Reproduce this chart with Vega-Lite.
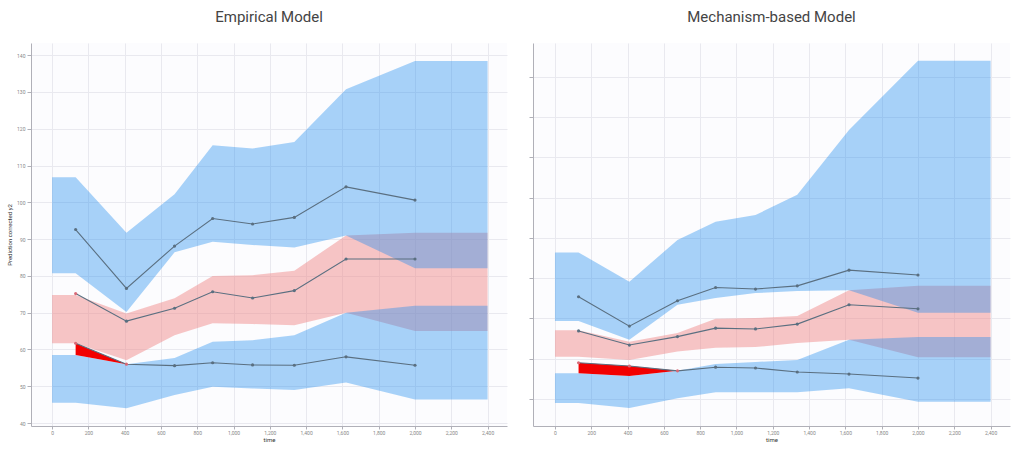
{
  "$schema": "https://vega.github.io/schema/vega-lite/v6.json",
  "background": "#ffffff",
  "padding": {"left": 6, "top": 10, "right": 5, "bottom": 5},
  "spacing": 21,
  "config": {
    "font": "Roboto",
    "view": {"stroke": null, "fill": "#fcfcfe"},
    "title": {"fontSize": 15, "fontWeight": "normal", "color": "#444444", "font": "Roboto", "offset": 18},
    "axis": {
      "gridColor": "#e9e9ef", "gridWidth": 1, "domainColor": "#b0b0b8", "tickColor": "#b0b0b8",
      "labelFontSize": 5, "labelColor": "#888888", "titleFontSize": 6, "titleColor": "#333333", "titleFontWeight": "normal"
    }
  },
  "datasets": {
    "bandsL": [
      {"t": 0, "ubl": 80.7, "ubh": 106.8, "ml": 61.7, "mh": 74.8, "lbl": 45.5, "lbh": 58.5},
      {"t": 130, "ubl": 80.7, "ubh": 106.8, "ml": 61.7, "mh": 74.8, "lbl": 45.5, "lbh": 58.5},
      {"t": 410, "ubl": 70.2, "ubh": 91.7, "ml": 57.1, "mh": 69.8, "lbl": 44.0, "lbh": 56.0},
      {"t": 675, "ubl": 86.4, "ubh": 102.2, "ml": 63.9, "mh": 73.9, "lbl": 47.6, "lbh": 57.7},
      {"t": 885, "ubl": 89.3, "ubh": 115.5, "ml": 67.1, "mh": 80.0, "lbl": 49.9, "lbh": 62.1},
      {"t": 1105, "ubl": 88.4, "ubh": 114.6, "ml": 66.9, "mh": 80.2, "lbl": 49.4, "lbh": 62.5},
      {"t": 1335, "ubl": 87.7, "ubh": 116.4, "ml": 66.6, "mh": 81.4, "lbl": 49.0, "lbh": 63.9},
      {"t": 1620, "ubl": 91.0, "ubh": 130.7, "ml": 70.0, "mh": 91.0, "lbl": 51.0, "lbh": 70.0},
      {"t": 2000, "ubl": 82.1, "ubh": 138.4, "ml": 65.0, "mh": 91.7, "lbl": 46.4, "lbh": 71.9},
      {"t": 2400, "ubl": 82.1, "ubh": 138.4, "ml": 65.0, "mh": 91.7, "lbl": 46.4, "lbh": 71.9}
    ],
    "obsL": [
      {"t": 130, "q": "p90", "v": 92.6, "out": false},
      {"t": 410, "q": "p90", "v": 76.6, "out": false},
      {"t": 675, "q": "p90", "v": 88.1, "out": false},
      {"t": 885, "q": "p90", "v": 95.6, "out": false},
      {"t": 1105, "q": "p90", "v": 94.1, "out": false},
      {"t": 1335, "q": "p90", "v": 95.9, "out": false},
      {"t": 1620, "q": "p90", "v": 104.2, "out": false},
      {"t": 2000, "q": "p90", "v": 100.6, "out": false},
      {"t": 130, "q": "p50", "v": 75.2, "out": true},
      {"t": 410, "q": "p50", "v": 67.7, "out": false},
      {"t": 675, "q": "p50", "v": 71.2, "out": false},
      {"t": 885, "q": "p50", "v": 75.7, "out": false},
      {"t": 1105, "q": "p50", "v": 74.0, "out": false},
      {"t": 1335, "q": "p50", "v": 76.0, "out": false},
      {"t": 1620, "q": "p50", "v": 84.6, "out": false},
      {"t": 2000, "q": "p50", "v": 84.6, "out": false},
      {"t": 130, "q": "p10", "v": 61.7, "out": true},
      {"t": 410, "q": "p10", "v": 56.0, "out": true},
      {"t": 675, "q": "p10", "v": 55.6, "out": false},
      {"t": 885, "q": "p10", "v": 56.4, "out": false},
      {"t": 1105, "q": "p10", "v": 55.8, "out": false},
      {"t": 1335, "q": "p10", "v": 55.7, "out": false},
      {"t": 1620, "q": "p10", "v": 58.0, "out": false},
      {"t": 2000, "q": "p10", "v": 55.7, "out": false}
    ],
    "redL": [
      {"t": 130, "obs": 61.7, "lim": 58.5},
      {"t": 410, "obs": 56.0, "lim": 56.0}
    ],
    "bandsR": [
      {"t": 0, "ubl": 69.4, "ubh": 86.4, "ml": 60.5, "mh": 67.1, "lbl": 49.0, "lbh": 56.4},
      {"t": 130, "ubl": 69.4, "ubh": 86.4, "ml": 60.5, "mh": 67.1, "lbl": 49.0, "lbh": 56.4},
      {"t": 410, "ubl": 64.7, "ubh": 79.1, "ml": 59.7, "mh": 64.2, "lbl": 47.8, "lbh": 55.7},
      {"t": 675, "ubl": 73.4, "ubh": 89.5, "ml": 61.8, "mh": 66.4, "lbl": 50.2, "lbh": 57.0},
      {"t": 885, "ubl": 75.1, "ubh": 94.0, "ml": 62.7, "mh": 69.9, "lbl": 51.7, "lbh": 58.7},
      {"t": 1105, "ubl": 76.3, "ubh": 95.7, "ml": 62.9, "mh": 70.1, "lbl": 51.7, "lbh": 59.2},
      {"t": 1335, "ubl": 76.8, "ubh": 100.7, "ml": 63.9, "mh": 70.6, "lbl": 51.7, "lbh": 59.7},
      {"t": 1620, "ubl": 77.0, "ubh": 116.8, "ml": 64.7, "mh": 77.0, "lbl": 52.7, "lbh": 64.7},
      {"t": 2000, "ubl": 71.4, "ubh": 134.0, "ml": 60.4, "mh": 78.1, "lbl": 49.3, "lbh": 65.4},
      {"t": 2400, "ubl": 71.4, "ubh": 134.0, "ml": 60.4, "mh": 78.1, "lbl": 49.3, "lbh": 65.4}
    ],
    "obsR": [
      {"t": 130, "q": "p90", "v": 75.4, "out": false},
      {"t": 410, "q": "p90", "v": 68.1, "out": false},
      {"t": 675, "q": "p90", "v": 74.4, "out": false},
      {"t": 885, "q": "p90", "v": 77.7, "out": false},
      {"t": 1105, "q": "p90", "v": 77.3, "out": false},
      {"t": 1335, "q": "p90", "v": 78.1, "out": false},
      {"t": 1620, "q": "p90", "v": 82.0, "out": false},
      {"t": 2000, "q": "p90", "v": 80.8, "out": false},
      {"t": 130, "q": "p50", "v": 66.9, "out": false},
      {"t": 410, "q": "p50", "v": 63.4, "out": false},
      {"t": 675, "q": "p50", "v": 65.5, "out": false},
      {"t": 885, "q": "p50", "v": 67.6, "out": false},
      {"t": 1105, "q": "p50", "v": 67.4, "out": false},
      {"t": 1335, "q": "p50", "v": 68.6, "out": false},
      {"t": 1620, "q": "p50", "v": 73.4, "out": false},
      {"t": 2000, "q": "p50", "v": 72.4, "out": false},
      {"t": 130, "q": "p10", "v": 59.0, "out": true},
      {"t": 410, "q": "p10", "v": 58.2, "out": true},
      {"t": 675, "q": "p10", "v": 57.0, "out": true},
      {"t": 885, "q": "p10", "v": 57.9, "out": false},
      {"t": 1105, "q": "p10", "v": 57.7, "out": false},
      {"t": 1335, "q": "p10", "v": 56.7, "out": false},
      {"t": 1620, "q": "p10", "v": 56.2, "out": false},
      {"t": 2000, "q": "p10", "v": 55.2, "out": false}
    ],
    "redR": [
      {"t": 130, "obs": 59.0, "lim": 56.4},
      {"t": 410, "obs": 58.2, "lim": 55.7},
      {"t": 675, "obs": 57.0, "lim": 57.0}
    ]
  },
  "hconcat": [
    {
      "width": 476,
      "height": 383,
      "title": {"text": "Empirical Model"},
      "layer": [
        {
          "data": {"name": "bandsL"},
          "mark": {"type": "area", "color": "#f08080", "opacity": 0.45},
          "encoding": {
            "x": {"field": "t", "type": "quantitative", "scale": {"domain": [-116, 2507], "nice": false, "zero": false},
              "axis": {"values": [0, 200, 400, 600, 800, 1000, 1200, 1400, 1600, 1800, 2000, 2200, 2400], "format": ",d", "title": "time", "tickSize": 3, "labelPadding": 1, "titlePadding": 1, "labelOverlap": false, "labelFlush": false, "tickCount": 13}},
            "y": {"field": "ml", "type": "quantitative", "scale": {"domain": [39.2, 143.3], "nice": false, "zero": false},
              "axis": {"values": [40, 50, 60, 70, 80, 90, 100, 110, 120, 130, 140], "title": "Prediction corrected y2", "tickSize": 4, "labelPadding": 2, "titlePadding": 4, "minExtent": 15, "maxExtent": 15, "labelOverlap": false, "labelFlush": false, "tickCount": 11}},
            "y2": {"field": "mh"}
          }
        },
        {
          "data": {"name": "bandsL"},
          "mark": {"type": "area", "color": "#1e8cf0", "opacity": 0.38},
          "encoding": {"x": {"field": "t", "type": "quantitative"}, "y": {"field": "ubl", "type": "quantitative"}, "y2": {"field": "ubh"}}
        },
        {
          "data": {"name": "bandsL"},
          "mark": {"type": "area", "color": "#1e8cf0", "opacity": 0.38},
          "encoding": {"x": {"field": "t", "type": "quantitative"}, "y": {"field": "lbl", "type": "quantitative"}, "y2": {"field": "lbh"}}
        },
        {
          "data": {"name": "redL"},
          "mark": {"type": "area", "color": "#f20000", "opacity": 1},
          "encoding": {"x": {"field": "t", "type": "quantitative"}, "y": {"field": "lim", "type": "quantitative"}, "y2": {"field": "obs"}}
        },
        {
          "data": {"name": "obsL"},
          "mark": {"type": "line", "color": "#5a6f80", "strokeWidth": 1.1},
          "encoding": {"x": {"field": "t", "type": "quantitative"}, "y": {"field": "v", "type": "quantitative"}, "detail": {"field": "q"}}
        },
        {
          "data": {"name": "obsL"},
          "mark": {"type": "point", "filled": true, "size": 10, "opacity": 1},
          "encoding": {"x": {"field": "t", "type": "quantitative"}, "y": {"field": "v", "type": "quantitative"},
            "color": {"condition": {"test": "datum.out", "value": "#d86a78"}, "value": "#5a6f80"}}
        }
      ]
    },
    {
      "width": 477,
      "height": 383,
      "title": {"text": "Mechanism-based Model"},
      "layer": [
        {
          "data": {"name": "bandsR"},
          "mark": {"type": "area", "color": "#f08080", "opacity": 0.45},
          "encoding": {
            "x": {"field": "t", "type": "quantitative", "scale": {"domain": [-121, 2507], "nice": false, "zero": false},
              "axis": {"values": [0, 200, 400, 600, 800, 1000, 1200, 1400, 1600, 1800, 2000, 2200, 2400], "format": ",d", "title": "time", "tickSize": 3, "labelPadding": 1, "titlePadding": 1, "labelOverlap": false, "labelFlush": false, "tickCount": 13}},
            "y": {"field": "ml", "type": "quantitative", "scale": {"domain": [43.3, 138.4], "nice": false, "zero": false},
              "axis": {"values": [50, 60, 70, 80, 90, 100, 110, 120, 130], "labels": false, "title": null, "tickSize": 4}},
            "y2": {"field": "mh"}
          }
        },
        {
          "data": {"name": "bandsR"},
          "mark": {"type": "area", "color": "#1e8cf0", "opacity": 0.38},
          "encoding": {"x": {"field": "t", "type": "quantitative"}, "y": {"field": "ubl", "type": "quantitative"}, "y2": {"field": "ubh"}}
        },
        {
          "data": {"name": "bandsR"},
          "mark": {"type": "area", "color": "#1e8cf0", "opacity": 0.38},
          "encoding": {"x": {"field": "t", "type": "quantitative"}, "y": {"field": "lbl", "type": "quantitative"}, "y2": {"field": "lbh"}}
        },
        {
          "data": {"name": "redR"},
          "mark": {"type": "area", "color": "#f20000", "opacity": 1},
          "encoding": {"x": {"field": "t", "type": "quantitative"}, "y": {"field": "lim", "type": "quantitative"}, "y2": {"field": "obs"}}
        },
        {
          "data": {"name": "obsR"},
          "mark": {"type": "line", "color": "#5a6f80", "strokeWidth": 1.1},
          "encoding": {"x": {"field": "t", "type": "quantitative"}, "y": {"field": "v", "type": "quantitative"}, "detail": {"field": "q"}}
        },
        {
          "data": {"name": "obsR"},
          "mark": {"type": "point", "filled": true, "size": 10, "opacity": 1},
          "encoding": {"x": {"field": "t", "type": "quantitative"}, "y": {"field": "v", "type": "quantitative"},
            "color": {"condition": {"test": "datum.out", "value": "#d86a78"}, "value": "#5a6f80"}}
        }
      ]
    }
  ]
}
